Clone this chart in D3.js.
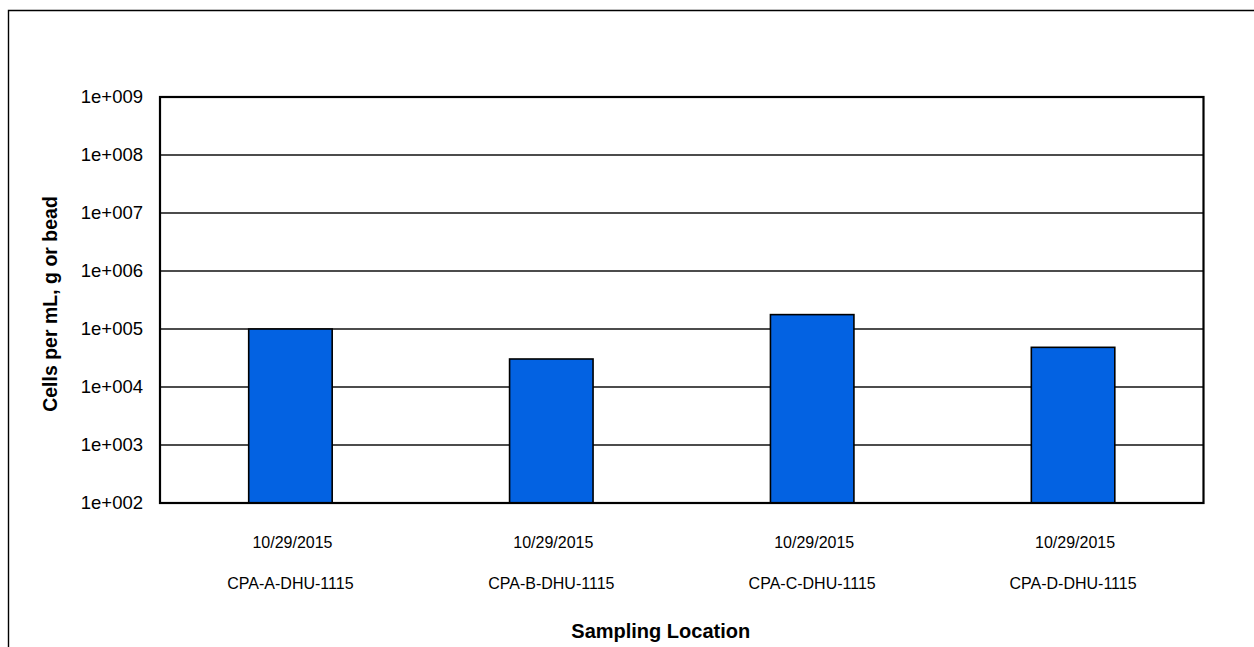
<!DOCTYPE html>
<html>
<head>
<meta charset="utf-8">
<script src="https://cdn.jsdelivr.net/npm/d3@7"></script>
<style>
  html, body { margin: 0; padding: 0; background: #fff; overflow: hidden; }
  svg { display: block; font-family: "Liberation Sans", Arial, sans-serif; }
</style>
</head>
<body>
<svg id="chart" width="1254" height="647"></svg>
<script>
// Sampling data
const sampleDates = ["10/29/2015", "10/29/2015", "10/29/2015", "10/29/2015"];
const locations = ["CPA-A-DHU-1115", "CPA-B-DHU-1115", "CPA-C-DHU-1115", "CPA-D-DHU-1115"];
const cellCounts = [1.0e5, 3.04e4, 1.77e5, 4.83e4];
const tickValues = [1e2, 1e3, 1e4, 1e5, 1e6, 1e7, 1e8, 1e9];
const yTitle = "Cells per mL, g or bead";
const xTitle = "Sampling Location";

const svg = d3.select("#chart");
const plot = { left: 160, top: 97, right: 1203.5, bottom: 503 };

// outer frame (left and top edges run off the page)
svg.append("path")
  .attr("d", "M8.5,700V10.5H1300")
  .attr("fill", "none").attr("stroke", "#000").attr("stroke-width", 1.4);

const x = d3.scaleBand()
  .domain(d3.range(locations.length))
  .range([plot.left, plot.right])
  .paddingInner(0.68)
  .paddingOuter(0.34);

const y = d3.scaleLog()
  .domain([1e2, 1e9])
  .range([plot.bottom, plot.top]);

const fmt = v => "1e+" + String(Math.round(Math.log10(v))).padStart(3, "0");

// horizontal gridlines
svg.append("g")
  .selectAll("line")
  .data(tickValues.slice(1, -1))
  .join("line")
  .attr("x1", plot.left).attr("x2", plot.right)
  .attr("y1", d => y(d)).attr("y2", d => y(d))
  .attr("stroke", "#111").attr("stroke-width", 1.7);

// y axis labels
const yAxis = d3.axisLeft(y).tickValues(tickValues).tickFormat(fmt).tickSize(0).tickPadding(17);
const gy = svg.append("g")
  .attr("transform", `translate(${plot.left},0)`)
  .call(yAxis);
gy.select(".domain").remove();
gy.selectAll("text")
  .attr("font-size", 18.5)
  .attr("fill", "#000")
  .attr("font-family", "Liberation Sans, Arial, sans-serif");

// bars
svg.append("g")
  .selectAll("rect")
  .data(cellCounts)
  .join("rect")
  .attr("x", (d, i) => x(i))
  .attr("y", d => y(d))
  .attr("width", x.bandwidth())
  .attr("height", d => y(1e2) - y(d))
  .attr("fill", "#0362e2")
  .attr("stroke", "#000")
  .attr("stroke-width", 1.6);

// plot border
svg.append("rect")
  .attr("x", plot.left).attr("y", plot.top)
  .attr("width", plot.right - plot.left).attr("height", plot.bottom - plot.top)
  .attr("fill", "none").attr("stroke", "#000").attr("stroke-width", 2.2);

// category labels
const cats = svg.append("g");
cats.selectAll("text.date")
  .data(sampleDates)
  .join("text")
  .attr("class", "date")
  .attr("x", (d, i) => x(i) + x.bandwidth() / 2 + 2)
  .attr("y", 548)
  .attr("text-anchor", "middle")
  .attr("font-size", 16)
  .text(d => d);
cats.selectAll("text.loc")
  .data(locations)
  .join("text")
  .attr("class", "loc")
  .attr("x", (d, i) => x(i) + x.bandwidth() / 2)
  .attr("y", 589)
  .attr("text-anchor", "middle")
  .attr("font-size", 16)
  .text(d => d);

// axis titles
svg.append("text")
  .attr("x", (plot.left + plot.right) / 2 - 21)
  .attr("y", 638)
  .attr("text-anchor", "middle")
  .attr("font-size", 20)
  .attr("font-weight", "bold")
  .text(xTitle);

svg.append("text")
  .attr("transform", `translate(56.5,304) rotate(-90)`)
  .attr("text-anchor", "middle")
  .attr("font-size", 19.5)
  .attr("font-weight", "bold")
  .text(yTitle);
</script>
</body>
</html>
